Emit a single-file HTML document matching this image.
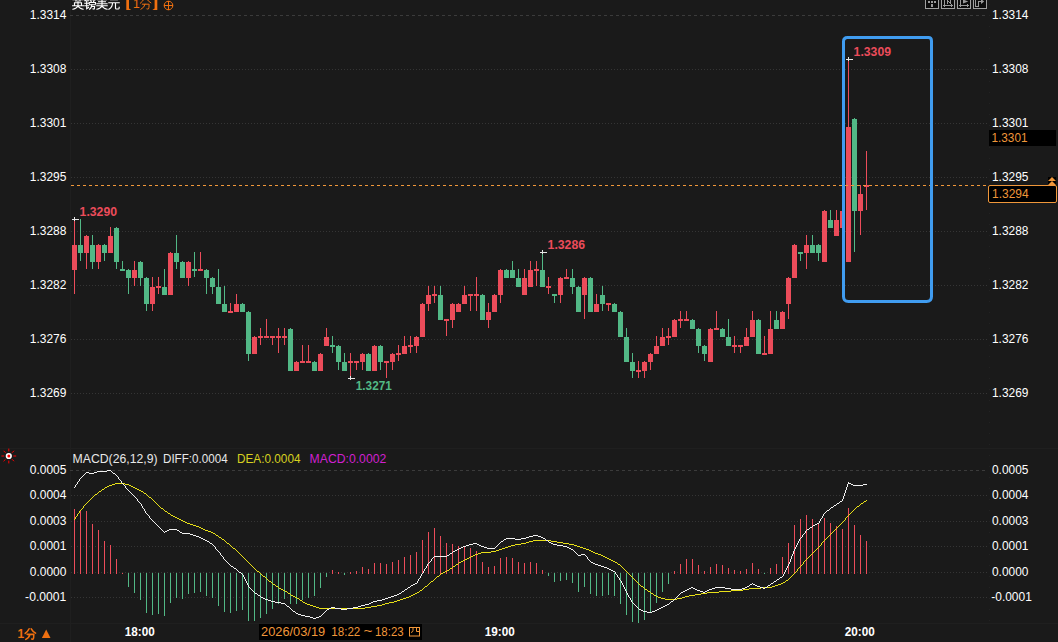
<!DOCTYPE html>
<html><head><meta charset="utf-8"><title>chart</title>
<style>html,body{margin:0;padding:0;background:#1a1a1a;overflow:hidden}svg{display:block}text{font-family:"Liberation Sans",sans-serif}</style>
</head><body>
<svg width="1058" height="642" viewBox="0 0 1058 642">
<rect x="0" y="0" width="1058" height="642" fill="#1a1a1a"/>
<g fill="#1f1f1f" shape-rendering="crispEdges">
<rect x="70" y="0" width="1" height="642"/>
<rect x="0" y="448" width="1058" height="1"/>
<rect x="0" y="623" width="1058" height="1"/>
<line x1="989.5" y1="4" x2="989.5" y2="623" stroke="#222" stroke-width="1" stroke-dasharray="1 10" shape-rendering="crispEdges"/>
</g>
<g stroke="#3b3b3b" stroke-width="1" shape-rendering="crispEdges" fill="none">
<line x1="70" y1="15.5" x2="986" y2="15.5" stroke-dasharray="3 3"/>
<line x1="71" y1="69.5" x2="988" y2="69.5" stroke="#353535" stroke-dasharray="1 2"/>
<line x1="71" y1="123.5" x2="988" y2="123.5" stroke="#353535" stroke-dasharray="1 2"/>
<line x1="71" y1="177.5" x2="988" y2="177.5" stroke="#353535" stroke-dasharray="1 2"/>
<line x1="71" y1="231.5" x2="988" y2="231.5" stroke="#353535" stroke-dasharray="1 2"/>
<line x1="71" y1="285.5" x2="988" y2="285.5" stroke="#353535" stroke-dasharray="1 2"/>
<line x1="71" y1="339.5" x2="988" y2="339.5" stroke="#353535" stroke-dasharray="1 2"/>
<line x1="71" y1="393.5" x2="988" y2="393.5" stroke="#353535" stroke-dasharray="1 2"/>
<line x1="70" y1="470.5" x2="986" y2="470.5" stroke-dasharray="3 3"/>
<line x1="71" y1="495.5" x2="988" y2="495.5" stroke="#353535" stroke-dasharray="1 2"/>
<line x1="71" y1="521.5" x2="988" y2="521.5" stroke="#353535" stroke-dasharray="1 2"/>
<line x1="71" y1="546.5" x2="988" y2="546.5" stroke="#353535" stroke-dasharray="1 2"/>
<line x1="71" y1="572.5" x2="988" y2="572.5" stroke="#353535" stroke-dasharray="1 2"/>
<line x1="71" y1="597.5" x2="988" y2="597.5" stroke="#353535" stroke-dasharray="1 2"/>
</g>
<g shape-rendering="crispEdges">
<rect x="74" y="219" width="1" height="75" fill="#ec4c5a"/>
<rect x="72" y="245" width="5" height="25" fill="#ec4c5a"/>
<rect x="80" y="219" width="1" height="42" fill="#52b886"/>
<rect x="78" y="245" width="5" height="8" fill="#52b886"/>
<rect x="86" y="235" width="1" height="34" fill="#ec4c5a"/>
<rect x="84" y="236" width="5" height="17" fill="#ec4c5a"/>
<rect x="92" y="235" width="1" height="34" fill="#52b886"/>
<rect x="90" y="245" width="5" height="17" fill="#52b886"/>
<rect x="98" y="244" width="1" height="25" fill="#ec4c5a"/>
<rect x="96" y="245" width="5" height="17" fill="#ec4c5a"/>
<rect x="104" y="244" width="1" height="17" fill="#52b886"/>
<rect x="102" y="245" width="5" height="8" fill="#52b886"/>
<rect x="110" y="227" width="1" height="25" fill="#ec4c5a"/>
<rect x="108" y="236" width="5" height="17" fill="#ec4c5a"/>
<rect x="116" y="227" width="1" height="42" fill="#52b886"/>
<rect x="114" y="228" width="5" height="34" fill="#52b886"/>
<rect x="122" y="261" width="1" height="8" fill="#52b886"/>
<rect x="120" y="269" width="5" height="2" fill="#52b886"/>
<rect x="128" y="269" width="1" height="25" fill="#52b886"/>
<rect x="126" y="270" width="5" height="8" fill="#52b886"/>
<rect x="134" y="261" width="1" height="25" fill="#ec4c5a"/>
<rect x="132" y="270" width="5" height="8" fill="#ec4c5a"/>
<rect x="140" y="261" width="1" height="25" fill="#52b886"/>
<rect x="138" y="262" width="5" height="16" fill="#52b886"/>
<rect x="146" y="277" width="1" height="34" fill="#52b886"/>
<rect x="144" y="278" width="5" height="26" fill="#52b886"/>
<rect x="152" y="277" width="1" height="34" fill="#ec4c5a"/>
<rect x="150" y="287" width="5" height="17" fill="#ec4c5a"/>
<rect x="158" y="277" width="1" height="17" fill="#ec4c5a"/>
<rect x="156" y="286" width="5" height="2" fill="#ec4c5a"/>
<rect x="164" y="269" width="1" height="25" fill="#52b886"/>
<rect x="162" y="287" width="5" height="8" fill="#52b886"/>
<rect x="170" y="252" width="1" height="42" fill="#ec4c5a"/>
<rect x="168" y="253" width="5" height="42" fill="#ec4c5a"/>
<rect x="176" y="235" width="1" height="34" fill="#52b886"/>
<rect x="174" y="253" width="5" height="9" fill="#52b886"/>
<rect x="182" y="261" width="1" height="16" fill="#52b886"/>
<rect x="180" y="262" width="5" height="16" fill="#52b886"/>
<rect x="188" y="261" width="1" height="25" fill="#ec4c5a"/>
<rect x="186" y="262" width="5" height="16" fill="#ec4c5a"/>
<rect x="194" y="252" width="1" height="25" fill="#52b886"/>
<rect x="192" y="269" width="5" height="2" fill="#52b886"/>
<rect x="200" y="252" width="1" height="17" fill="#ec4c5a"/>
<rect x="198" y="269" width="5" height="2" fill="#ec4c5a"/>
<rect x="206" y="269" width="1" height="25" fill="#52b886"/>
<rect x="204" y="270" width="5" height="8" fill="#52b886"/>
<rect x="212" y="277" width="1" height="17" fill="#52b886"/>
<rect x="210" y="278" width="5" height="9" fill="#52b886"/>
<rect x="218" y="269" width="1" height="34" fill="#52b886"/>
<rect x="216" y="287" width="5" height="17" fill="#52b886"/>
<rect x="224" y="286" width="1" height="25" fill="#52b886"/>
<rect x="222" y="304" width="5" height="8" fill="#52b886"/>
<rect x="230" y="303" width="1" height="8" fill="#ec4c5a"/>
<rect x="228" y="311" width="5" height="2" fill="#ec4c5a"/>
<rect x="236" y="294" width="1" height="17" fill="#ec4c5a"/>
<rect x="234" y="304" width="5" height="8" fill="#ec4c5a"/>
<rect x="242" y="303" width="1" height="8" fill="#52b886"/>
<rect x="240" y="304" width="5" height="8" fill="#52b886"/>
<rect x="248" y="311" width="1" height="50" fill="#52b886"/>
<rect x="246" y="312" width="5" height="42" fill="#52b886"/>
<rect x="254" y="336" width="1" height="17" fill="#ec4c5a"/>
<rect x="252" y="337" width="5" height="17" fill="#ec4c5a"/>
<rect x="260" y="328" width="1" height="17" fill="#ec4c5a"/>
<rect x="258" y="336" width="5" height="2" fill="#ec4c5a"/>
<rect x="266" y="319" width="1" height="17" fill="#ec4c5a"/>
<rect x="264" y="336" width="5" height="2" fill="#ec4c5a"/>
<rect x="272" y="336" width="1" height="9" fill="#ec4c5a"/>
<rect x="270" y="336" width="5" height="2" fill="#ec4c5a"/>
<rect x="278" y="328" width="1" height="25" fill="#ec4c5a"/>
<rect x="276" y="336" width="5" height="2" fill="#ec4c5a"/>
<rect x="284" y="328" width="1" height="17" fill="#ec4c5a"/>
<rect x="282" y="336" width="5" height="2" fill="#ec4c5a"/>
<rect x="290" y="328" width="1" height="42" fill="#52b886"/>
<rect x="288" y="329" width="5" height="42" fill="#52b886"/>
<rect x="296" y="361" width="1" height="9" fill="#ec4c5a"/>
<rect x="294" y="362" width="5" height="9" fill="#ec4c5a"/>
<rect x="302" y="345" width="1" height="16" fill="#ec4c5a"/>
<rect x="300" y="361" width="5" height="2" fill="#ec4c5a"/>
<rect x="308" y="345" width="1" height="16" fill="#ec4c5a"/>
<rect x="306" y="361" width="5" height="2" fill="#ec4c5a"/>
<rect x="314" y="361" width="1" height="9" fill="#52b886"/>
<rect x="312" y="362" width="5" height="9" fill="#52b886"/>
<rect x="320" y="353" width="1" height="17" fill="#ec4c5a"/>
<rect x="318" y="354" width="5" height="17" fill="#ec4c5a"/>
<rect x="326" y="328" width="1" height="17" fill="#ec4c5a"/>
<rect x="324" y="337" width="5" height="9" fill="#ec4c5a"/>
<rect x="332" y="336" width="1" height="17" fill="#52b886"/>
<rect x="330" y="345" width="5" height="2" fill="#52b886"/>
<rect x="338" y="345" width="1" height="25" fill="#52b886"/>
<rect x="336" y="346" width="5" height="16" fill="#52b886"/>
<rect x="344" y="353" width="1" height="17" fill="#52b886"/>
<rect x="342" y="362" width="5" height="9" fill="#52b886"/>
<rect x="350" y="353" width="1" height="25" fill="#ec4c5a"/>
<rect x="348" y="361" width="5" height="2" fill="#ec4c5a"/>
<rect x="356" y="361" width="1" height="9" fill="#ec4c5a"/>
<rect x="354" y="361" width="5" height="2" fill="#ec4c5a"/>
<rect x="362" y="353" width="1" height="17" fill="#ec4c5a"/>
<rect x="360" y="354" width="5" height="8" fill="#ec4c5a"/>
<rect x="368" y="353" width="1" height="17" fill="#52b886"/>
<rect x="366" y="354" width="5" height="17" fill="#52b886"/>
<rect x="374" y="345" width="1" height="25" fill="#ec4c5a"/>
<rect x="372" y="346" width="5" height="25" fill="#ec4c5a"/>
<rect x="380" y="345" width="1" height="25" fill="#52b886"/>
<rect x="378" y="346" width="5" height="16" fill="#52b886"/>
<rect x="386" y="361" width="1" height="17" fill="#ec4c5a"/>
<rect x="384" y="361" width="5" height="2" fill="#ec4c5a"/>
<rect x="392" y="353" width="1" height="17" fill="#ec4c5a"/>
<rect x="390" y="354" width="5" height="8" fill="#ec4c5a"/>
<rect x="398" y="345" width="1" height="16" fill="#ec4c5a"/>
<rect x="396" y="353" width="5" height="2" fill="#ec4c5a"/>
<rect x="404" y="336" width="1" height="17" fill="#ec4c5a"/>
<rect x="402" y="346" width="5" height="8" fill="#ec4c5a"/>
<rect x="410" y="336" width="1" height="17" fill="#ec4c5a"/>
<rect x="408" y="345" width="5" height="2" fill="#ec4c5a"/>
<rect x="416" y="336" width="1" height="17" fill="#ec4c5a"/>
<rect x="414" y="337" width="5" height="9" fill="#ec4c5a"/>
<rect x="422" y="303" width="1" height="33" fill="#ec4c5a"/>
<rect x="420" y="304" width="5" height="33" fill="#ec4c5a"/>
<rect x="428" y="286" width="1" height="25" fill="#ec4c5a"/>
<rect x="426" y="295" width="5" height="9" fill="#ec4c5a"/>
<rect x="434" y="286" width="1" height="17" fill="#ec4c5a"/>
<rect x="432" y="294" width="5" height="2" fill="#ec4c5a"/>
<rect x="440" y="286" width="1" height="33" fill="#52b886"/>
<rect x="438" y="295" width="5" height="25" fill="#52b886"/>
<rect x="446" y="319" width="1" height="17" fill="#ec4c5a"/>
<rect x="444" y="319" width="5" height="2" fill="#ec4c5a"/>
<rect x="452" y="303" width="1" height="25" fill="#ec4c5a"/>
<rect x="450" y="304" width="5" height="16" fill="#ec4c5a"/>
<rect x="458" y="303" width="1" height="8" fill="#ec4c5a"/>
<rect x="456" y="304" width="5" height="8" fill="#ec4c5a"/>
<rect x="464" y="286" width="1" height="17" fill="#ec4c5a"/>
<rect x="462" y="295" width="5" height="9" fill="#ec4c5a"/>
<rect x="470" y="294" width="1" height="17" fill="#ec4c5a"/>
<rect x="468" y="294" width="5" height="2" fill="#ec4c5a"/>
<rect x="476" y="277" width="1" height="34" fill="#ec4c5a"/>
<rect x="474" y="294" width="5" height="2" fill="#ec4c5a"/>
<rect x="482" y="294" width="1" height="25" fill="#52b886"/>
<rect x="480" y="295" width="5" height="25" fill="#52b886"/>
<rect x="488" y="303" width="1" height="25" fill="#ec4c5a"/>
<rect x="486" y="312" width="5" height="8" fill="#ec4c5a"/>
<rect x="494" y="294" width="1" height="17" fill="#ec4c5a"/>
<rect x="492" y="295" width="5" height="17" fill="#ec4c5a"/>
<rect x="500" y="269" width="1" height="34" fill="#ec4c5a"/>
<rect x="498" y="270" width="5" height="25" fill="#ec4c5a"/>
<rect x="506" y="269" width="1" height="8" fill="#52b886"/>
<rect x="504" y="270" width="5" height="8" fill="#52b886"/>
<rect x="512" y="261" width="1" height="16" fill="#52b886"/>
<rect x="510" y="270" width="5" height="8" fill="#52b886"/>
<rect x="518" y="269" width="1" height="17" fill="#52b886"/>
<rect x="516" y="278" width="5" height="9" fill="#52b886"/>
<rect x="524" y="269" width="1" height="25" fill="#ec4c5a"/>
<rect x="522" y="278" width="5" height="17" fill="#ec4c5a"/>
<rect x="530" y="261" width="1" height="25" fill="#ec4c5a"/>
<rect x="528" y="270" width="5" height="17" fill="#ec4c5a"/>
<rect x="536" y="261" width="1" height="25" fill="#ec4c5a"/>
<rect x="534" y="269" width="5" height="2" fill="#ec4c5a"/>
<rect x="542" y="252" width="1" height="34" fill="#52b886"/>
<rect x="540" y="270" width="5" height="17" fill="#52b886"/>
<rect x="548" y="277" width="1" height="17" fill="#ec4c5a"/>
<rect x="546" y="286" width="5" height="2" fill="#ec4c5a"/>
<rect x="554" y="294" width="1" height="9" fill="#52b886"/>
<rect x="552" y="294" width="5" height="2" fill="#52b886"/>
<rect x="560" y="277" width="1" height="26" fill="#ec4c5a"/>
<rect x="558" y="278" width="5" height="17" fill="#ec4c5a"/>
<rect x="566" y="269" width="1" height="8" fill="#ec4c5a"/>
<rect x="564" y="277" width="5" height="2" fill="#ec4c5a"/>
<rect x="572" y="269" width="1" height="25" fill="#52b886"/>
<rect x="570" y="278" width="5" height="9" fill="#52b886"/>
<rect x="578" y="286" width="1" height="25" fill="#52b886"/>
<rect x="576" y="287" width="5" height="25" fill="#52b886"/>
<rect x="584" y="277" width="1" height="42" fill="#ec4c5a"/>
<rect x="582" y="278" width="5" height="17" fill="#ec4c5a"/>
<rect x="590" y="277" width="1" height="34" fill="#52b886"/>
<rect x="588" y="278" width="5" height="34" fill="#52b886"/>
<rect x="596" y="294" width="1" height="17" fill="#ec4c5a"/>
<rect x="594" y="304" width="5" height="8" fill="#ec4c5a"/>
<rect x="602" y="286" width="1" height="25" fill="#52b886"/>
<rect x="600" y="295" width="5" height="9" fill="#52b886"/>
<rect x="608" y="303" width="1" height="8" fill="#ec4c5a"/>
<rect x="606" y="303" width="5" height="2" fill="#ec4c5a"/>
<rect x="614" y="303" width="1" height="8" fill="#52b886"/>
<rect x="612" y="304" width="5" height="8" fill="#52b886"/>
<rect x="620" y="311" width="1" height="25" fill="#52b886"/>
<rect x="618" y="312" width="5" height="25" fill="#52b886"/>
<rect x="626" y="328" width="1" height="33" fill="#52b886"/>
<rect x="624" y="337" width="5" height="25" fill="#52b886"/>
<rect x="632" y="353" width="1" height="25" fill="#52b886"/>
<rect x="630" y="362" width="5" height="9" fill="#52b886"/>
<rect x="638" y="361" width="1" height="17" fill="#ec4c5a"/>
<rect x="636" y="370" width="5" height="2" fill="#ec4c5a"/>
<rect x="644" y="361" width="1" height="17" fill="#ec4c5a"/>
<rect x="642" y="362" width="5" height="9" fill="#ec4c5a"/>
<rect x="650" y="353" width="1" height="17" fill="#ec4c5a"/>
<rect x="648" y="354" width="5" height="8" fill="#ec4c5a"/>
<rect x="656" y="336" width="1" height="17" fill="#ec4c5a"/>
<rect x="654" y="346" width="5" height="8" fill="#ec4c5a"/>
<rect x="662" y="328" width="1" height="17" fill="#ec4c5a"/>
<rect x="660" y="337" width="5" height="9" fill="#ec4c5a"/>
<rect x="668" y="328" width="1" height="17" fill="#ec4c5a"/>
<rect x="666" y="336" width="5" height="2" fill="#ec4c5a"/>
<rect x="674" y="319" width="1" height="17" fill="#ec4c5a"/>
<rect x="672" y="320" width="5" height="17" fill="#ec4c5a"/>
<rect x="680" y="311" width="1" height="17" fill="#ec4c5a"/>
<rect x="678" y="319" width="5" height="2" fill="#ec4c5a"/>
<rect x="686" y="311" width="1" height="8" fill="#ec4c5a"/>
<rect x="684" y="319" width="5" height="2" fill="#ec4c5a"/>
<rect x="692" y="319" width="1" height="9" fill="#52b886"/>
<rect x="690" y="320" width="5" height="9" fill="#52b886"/>
<rect x="698" y="328" width="1" height="25" fill="#52b886"/>
<rect x="696" y="329" width="5" height="17" fill="#52b886"/>
<rect x="704" y="345" width="1" height="16" fill="#52b886"/>
<rect x="702" y="346" width="5" height="8" fill="#52b886"/>
<rect x="710" y="328" width="1" height="33" fill="#ec4c5a"/>
<rect x="708" y="329" width="5" height="33" fill="#ec4c5a"/>
<rect x="716" y="311" width="1" height="17" fill="#ec4c5a"/>
<rect x="714" y="328" width="5" height="2" fill="#ec4c5a"/>
<rect x="722" y="328" width="1" height="8" fill="#52b886"/>
<rect x="720" y="329" width="5" height="8" fill="#52b886"/>
<rect x="728" y="319" width="1" height="26" fill="#52b886"/>
<rect x="726" y="337" width="5" height="9" fill="#52b886"/>
<rect x="734" y="336" width="1" height="17" fill="#ec4c5a"/>
<rect x="732" y="345" width="5" height="2" fill="#ec4c5a"/>
<rect x="740" y="345" width="1" height="8" fill="#ec4c5a"/>
<rect x="738" y="345" width="5" height="2" fill="#ec4c5a"/>
<rect x="746" y="328" width="1" height="17" fill="#ec4c5a"/>
<rect x="744" y="337" width="5" height="9" fill="#ec4c5a"/>
<rect x="752" y="311" width="1" height="25" fill="#ec4c5a"/>
<rect x="750" y="320" width="5" height="17" fill="#ec4c5a"/>
<rect x="758" y="319" width="1" height="34" fill="#52b886"/>
<rect x="756" y="320" width="5" height="34" fill="#52b886"/>
<rect x="764" y="336" width="1" height="17" fill="#ec4c5a"/>
<rect x="762" y="353" width="5" height="2" fill="#ec4c5a"/>
<rect x="770" y="311" width="1" height="42" fill="#ec4c5a"/>
<rect x="768" y="329" width="5" height="25" fill="#ec4c5a"/>
<rect x="776" y="311" width="1" height="17" fill="#52b886"/>
<rect x="774" y="320" width="5" height="9" fill="#52b886"/>
<rect x="782" y="311" width="1" height="17" fill="#ec4c5a"/>
<rect x="780" y="312" width="5" height="17" fill="#ec4c5a"/>
<rect x="788" y="277" width="1" height="42" fill="#ec4c5a"/>
<rect x="786" y="278" width="5" height="26" fill="#ec4c5a"/>
<rect x="794" y="244" width="1" height="33" fill="#ec4c5a"/>
<rect x="792" y="245" width="5" height="33" fill="#ec4c5a"/>
<rect x="800" y="252" width="1" height="9" fill="#52b886"/>
<rect x="798" y="252" width="5" height="2" fill="#52b886"/>
<rect x="806" y="235" width="1" height="34" fill="#ec4c5a"/>
<rect x="804" y="245" width="5" height="8" fill="#ec4c5a"/>
<rect x="812" y="235" width="1" height="17" fill="#52b886"/>
<rect x="810" y="245" width="5" height="8" fill="#52b886"/>
<rect x="818" y="244" width="1" height="17" fill="#52b886"/>
<rect x="816" y="245" width="5" height="8" fill="#52b886"/>
<rect x="824" y="210" width="1" height="51" fill="#ec4c5a"/>
<rect x="822" y="211" width="5" height="51" fill="#ec4c5a"/>
<rect x="830" y="210" width="1" height="17" fill="#52b886"/>
<rect x="828" y="220" width="5" height="8" fill="#52b886"/>
<rect x="836" y="210" width="1" height="25" fill="#ec4c5a"/>
<rect x="834" y="220" width="5" height="16" fill="#ec4c5a"/>
<rect x="842" y="210" width="1" height="17" fill="#ec4c5a"/>
<rect x="840" y="211" width="5" height="17" fill="#ec4c5a"/>
<rect x="848" y="59" width="1" height="202" fill="#ec4c5a"/>
<rect x="846" y="127" width="5" height="135" fill="#ec4c5a"/>
<rect x="854" y="118" width="1" height="134" fill="#52b886"/>
<rect x="852" y="119" width="5" height="92" fill="#52b886"/>
<rect x="860" y="185" width="1" height="50" fill="#ec4c5a"/>
<rect x="858" y="194" width="5" height="17" fill="#ec4c5a"/>
<rect x="866" y="151" width="1" height="59" fill="#ec4c5a"/>
<rect x="864" y="185" width="5" height="2" fill="#ec4c5a"/>
</g>
<line x1="71" y1="185.5" x2="988" y2="185.5" stroke="#f0973a" stroke-width="1" stroke-dasharray="3 3" shape-rendering="crispEdges"/>
<path d="M847.5 37.5 H928.5 Q931.5 37.5 931.5 41 V296.5 Q931.5 301.5 926.5 301.5 H848.5 Q843.5 301.5 843.5 296.5 V41.5 Q843.5 37.5 847.5 37.5 Z" fill="none" stroke="#409cf0" stroke-width="3"/>
<g fill="#e6e6e6" shape-rendering="crispEdges"><rect x="72" y="219" width="7" height="1"/><rect x="74" y="217" width="1" height="4"/></g>
<text x="79.6" y="216" font-family="Liberation Sans, sans-serif" font-size="12" font-weight="bold" fill="#ec4c5a" textLength="37.4" lengthAdjust="spacingAndGlyphs">1.3290</text>
<g fill="#e6e6e6" shape-rendering="crispEdges"><rect x="540" y="252" width="7" height="1"/><rect x="542" y="250" width="1" height="4"/></g>
<text x="547.6" y="249" font-family="Liberation Sans, sans-serif" font-size="12" font-weight="bold" fill="#ec4c5a" textLength="37.4" lengthAdjust="spacingAndGlyphs">1.3286</text>
<g fill="#e6e6e6" shape-rendering="crispEdges"><rect x="846" y="59" width="7" height="1"/><rect x="848" y="57" width="1" height="4"/></g>
<text x="853.6" y="56" font-family="Liberation Sans, sans-serif" font-size="12" font-weight="bold" fill="#ec4c5a" textLength="37.4" lengthAdjust="spacingAndGlyphs">1.3309</text>
<g fill="#e6e6e6" shape-rendering="crispEdges"><rect x="348" y="378" width="7" height="1"/><rect x="350" y="376" width="1" height="4"/></g>
<text x="355.8" y="390" font-family="Liberation Sans, sans-serif" font-size="12" font-weight="bold" fill="#52b886" textLength="36" lengthAdjust="spacingAndGlyphs">1.3271</text>
<text x="29.8" y="19" font-family="Liberation Sans, sans-serif" font-size="12" fill="#ffffff" text-anchor="start" textLength="36.6" lengthAdjust="spacingAndGlyphs">1.3314</text>
<text x="992" y="19" font-family="Liberation Sans, sans-serif" font-size="12" fill="#ffffff" text-anchor="start" textLength="36.4" lengthAdjust="spacingAndGlyphs">1.3314</text>
<text x="29.8" y="73" font-family="Liberation Sans, sans-serif" font-size="12" fill="#ffffff" text-anchor="start" textLength="36.6" lengthAdjust="spacingAndGlyphs">1.3308</text>
<text x="992" y="73" font-family="Liberation Sans, sans-serif" font-size="12" fill="#ffffff" text-anchor="start" textLength="36.4" lengthAdjust="spacingAndGlyphs">1.3308</text>
<text x="29.8" y="127" font-family="Liberation Sans, sans-serif" font-size="12" fill="#ffffff" text-anchor="start" textLength="36.6" lengthAdjust="spacingAndGlyphs">1.3301</text>
<text x="992" y="127" font-family="Liberation Sans, sans-serif" font-size="12" fill="#ffffff" text-anchor="start" textLength="36.4" lengthAdjust="spacingAndGlyphs">1.3301</text>
<text x="29.8" y="181" font-family="Liberation Sans, sans-serif" font-size="12" fill="#ffffff" text-anchor="start" textLength="36.6" lengthAdjust="spacingAndGlyphs">1.3295</text>
<text x="992" y="181" font-family="Liberation Sans, sans-serif" font-size="12" fill="#ffffff" text-anchor="start" textLength="36.4" lengthAdjust="spacingAndGlyphs">1.3295</text>
<text x="29.8" y="235" font-family="Liberation Sans, sans-serif" font-size="12" fill="#ffffff" text-anchor="start" textLength="36.6" lengthAdjust="spacingAndGlyphs">1.3288</text>
<text x="992" y="235" font-family="Liberation Sans, sans-serif" font-size="12" fill="#ffffff" text-anchor="start" textLength="36.4" lengthAdjust="spacingAndGlyphs">1.3288</text>
<text x="29.8" y="289" font-family="Liberation Sans, sans-serif" font-size="12" fill="#ffffff" text-anchor="start" textLength="36.6" lengthAdjust="spacingAndGlyphs">1.3282</text>
<text x="992" y="289" font-family="Liberation Sans, sans-serif" font-size="12" fill="#ffffff" text-anchor="start" textLength="36.4" lengthAdjust="spacingAndGlyphs">1.3282</text>
<text x="29.8" y="343" font-family="Liberation Sans, sans-serif" font-size="12" fill="#ffffff" text-anchor="start" textLength="36.6" lengthAdjust="spacingAndGlyphs">1.3276</text>
<text x="992" y="343" font-family="Liberation Sans, sans-serif" font-size="12" fill="#ffffff" text-anchor="start" textLength="36.4" lengthAdjust="spacingAndGlyphs">1.3276</text>
<text x="29.8" y="397" font-family="Liberation Sans, sans-serif" font-size="12" fill="#ffffff" text-anchor="start" textLength="36.6" lengthAdjust="spacingAndGlyphs">1.3269</text>
<text x="992" y="397" font-family="Liberation Sans, sans-serif" font-size="12" fill="#ffffff" text-anchor="start" textLength="36.4" lengthAdjust="spacingAndGlyphs">1.3269</text>
<text x="29.8" y="474" font-family="Liberation Sans, sans-serif" font-size="12" fill="#ffffff" text-anchor="start" textLength="36.6" lengthAdjust="spacingAndGlyphs">0.0005</text>
<text x="992" y="474" font-family="Liberation Sans, sans-serif" font-size="12" fill="#ffffff" text-anchor="start" textLength="36.4" lengthAdjust="spacingAndGlyphs">0.0005</text>
<text x="29.8" y="499" font-family="Liberation Sans, sans-serif" font-size="12" fill="#ffffff" text-anchor="start" textLength="36.6" lengthAdjust="spacingAndGlyphs">0.0004</text>
<text x="992" y="499" font-family="Liberation Sans, sans-serif" font-size="12" fill="#ffffff" text-anchor="start" textLength="36.4" lengthAdjust="spacingAndGlyphs">0.0004</text>
<text x="29.8" y="525" font-family="Liberation Sans, sans-serif" font-size="12" fill="#ffffff" text-anchor="start" textLength="36.6" lengthAdjust="spacingAndGlyphs">0.0003</text>
<text x="992" y="525" font-family="Liberation Sans, sans-serif" font-size="12" fill="#ffffff" text-anchor="start" textLength="36.4" lengthAdjust="spacingAndGlyphs">0.0003</text>
<text x="29.8" y="550" font-family="Liberation Sans, sans-serif" font-size="12" fill="#ffffff" text-anchor="start" textLength="36.6" lengthAdjust="spacingAndGlyphs">0.0001</text>
<text x="992" y="550" font-family="Liberation Sans, sans-serif" font-size="12" fill="#ffffff" text-anchor="start" textLength="36.4" lengthAdjust="spacingAndGlyphs">0.0001</text>
<text x="29.8" y="576" font-family="Liberation Sans, sans-serif" font-size="12" fill="#ffffff" text-anchor="start" textLength="36.6" lengthAdjust="spacingAndGlyphs">0.0000</text>
<text x="992" y="576" font-family="Liberation Sans, sans-serif" font-size="12" fill="#ffffff" text-anchor="start" textLength="36.4" lengthAdjust="spacingAndGlyphs">0.0000</text>
<text x="25.1" y="601" font-family="Liberation Sans, sans-serif" font-size="12" fill="#ffffff" text-anchor="start" textLength="41.2" lengthAdjust="spacingAndGlyphs">-0.0001</text>
<text x="991.3" y="601" font-family="Liberation Sans, sans-serif" font-size="12" fill="#ffffff" text-anchor="start" textLength="40.5" lengthAdjust="spacingAndGlyphs">-0.0001</text>
<rect x="989" y="130" width="67" height="16" fill="#000"/>
<text x="991.5" y="142.3" font-family="Liberation Sans, sans-serif" font-size="12" fill="#f0973a" text-anchor="start" textLength="36" lengthAdjust="spacingAndGlyphs">1.3301</text>
<rect x="988.5" y="185.5" width="68" height="17" rx="1.5" fill="#000" stroke="#f0973a" stroke-width="1"/>
<text x="992" y="198.2" font-family="Liberation Sans, sans-serif" font-size="12" fill="#f0973a" text-anchor="start" textLength="36.6" lengthAdjust="spacingAndGlyphs">1.3294</text>
<rect x="1048" y="177" width="8" height="8" fill="#000"/>
<path d="M1052 177 L1056 181 L1048 181 Z M1052 181 L1056 185 L1048 185 Z" fill="#f0973a"/>
<g shape-rendering="crispEdges">
<rect x="74" y="509" width="1" height="65" fill="#ec4c5a"/>
<rect x="80" y="511" width="1" height="63" fill="#ec4c5a"/>
<rect x="86" y="511" width="1" height="63" fill="#ec4c5a"/>
<rect x="92" y="524" width="1" height="50" fill="#ec4c5a"/>
<rect x="98" y="530" width="1" height="44" fill="#ec4c5a"/>
<rect x="104" y="541" width="1" height="33" fill="#ec4c5a"/>
<rect x="110" y="545" width="1" height="29" fill="#ec4c5a"/>
<rect x="116" y="559" width="1" height="15" fill="#ec4c5a"/>
<rect x="122" y="573" width="1" height="1" fill="#ec4c5a"/>
<rect x="128" y="573" width="1" height="14" fill="#52b886"/>
<rect x="134" y="573" width="1" height="20" fill="#52b886"/>
<rect x="140" y="573" width="1" height="27" fill="#52b886"/>
<rect x="146" y="573" width="1" height="40" fill="#52b886"/>
<rect x="152" y="573" width="1" height="42" fill="#52b886"/>
<rect x="158" y="573" width="1" height="41" fill="#52b886"/>
<rect x="164" y="573" width="1" height="43" fill="#52b886"/>
<rect x="170" y="573" width="1" height="30" fill="#52b886"/>
<rect x="176" y="573" width="1" height="25" fill="#52b886"/>
<rect x="182" y="573" width="1" height="26" fill="#52b886"/>
<rect x="188" y="573" width="1" height="21" fill="#52b886"/>
<rect x="194" y="573" width="1" height="20" fill="#52b886"/>
<rect x="200" y="573" width="1" height="19" fill="#52b886"/>
<rect x="206" y="573" width="1" height="23" fill="#52b886"/>
<rect x="212" y="573" width="1" height="25" fill="#52b886"/>
<rect x="218" y="573" width="1" height="33" fill="#52b886"/>
<rect x="224" y="573" width="1" height="39" fill="#52b886"/>
<rect x="230" y="573" width="1" height="40" fill="#52b886"/>
<rect x="236" y="573" width="1" height="38" fill="#52b886"/>
<rect x="242" y="573" width="1" height="37" fill="#52b886"/>
<rect x="248" y="573" width="1" height="48" fill="#52b886"/>
<rect x="254" y="573" width="1" height="48" fill="#52b886"/>
<rect x="260" y="573" width="1" height="45" fill="#52b886"/>
<rect x="266" y="573" width="1" height="41" fill="#52b886"/>
<rect x="272" y="573" width="1" height="36" fill="#52b886"/>
<rect x="278" y="573" width="1" height="31" fill="#52b886"/>
<rect x="284" y="573" width="1" height="26" fill="#52b886"/>
<rect x="290" y="573" width="1" height="31" fill="#52b886"/>
<rect x="296" y="573" width="1" height="31" fill="#52b886"/>
<rect x="302" y="573" width="1" height="27" fill="#52b886"/>
<rect x="308" y="573" width="1" height="25" fill="#52b886"/>
<rect x="314" y="573" width="1" height="23" fill="#52b886"/>
<rect x="320" y="573" width="1" height="15" fill="#52b886"/>
<rect x="326" y="573" width="1" height="4" fill="#52b886"/>
<rect x="332" y="570" width="1" height="4" fill="#ec4c5a"/>
<rect x="338" y="572" width="1" height="2" fill="#ec4c5a"/>
<rect x="344" y="573" width="1" height="2" fill="#52b886"/>
<rect x="350" y="572" width="1" height="2" fill="#ec4c5a"/>
<rect x="356" y="571" width="1" height="3" fill="#ec4c5a"/>
<rect x="362" y="567" width="1" height="7" fill="#ec4c5a"/>
<rect x="368" y="569" width="1" height="5" fill="#ec4c5a"/>
<rect x="374" y="563" width="1" height="11" fill="#ec4c5a"/>
<rect x="380" y="563" width="1" height="11" fill="#ec4c5a"/>
<rect x="386" y="564" width="1" height="10" fill="#ec4c5a"/>
<rect x="392" y="562" width="1" height="12" fill="#ec4c5a"/>
<rect x="398" y="560" width="1" height="14" fill="#ec4c5a"/>
<rect x="404" y="557" width="1" height="17" fill="#ec4c5a"/>
<rect x="410" y="555" width="1" height="19" fill="#ec4c5a"/>
<rect x="416" y="552" width="1" height="22" fill="#ec4c5a"/>
<rect x="422" y="540" width="1" height="34" fill="#ec4c5a"/>
<rect x="428" y="532" width="1" height="42" fill="#ec4c5a"/>
<rect x="434" y="528" width="1" height="46" fill="#ec4c5a"/>
<rect x="440" y="536" width="1" height="38" fill="#ec4c5a"/>
<rect x="446" y="543" width="1" height="31" fill="#ec4c5a"/>
<rect x="452" y="544" width="1" height="30" fill="#ec4c5a"/>
<rect x="458" y="546" width="1" height="28" fill="#ec4c5a"/>
<rect x="464" y="546" width="1" height="28" fill="#ec4c5a"/>
<rect x="470" y="548" width="1" height="26" fill="#ec4c5a"/>
<rect x="476" y="551" width="1" height="23" fill="#ec4c5a"/>
<rect x="482" y="562" width="1" height="12" fill="#ec4c5a"/>
<rect x="488" y="567" width="1" height="7" fill="#ec4c5a"/>
<rect x="494" y="566" width="1" height="8" fill="#ec4c5a"/>
<rect x="500" y="558" width="1" height="16" fill="#ec4c5a"/>
<rect x="506" y="557" width="1" height="17" fill="#ec4c5a"/>
<rect x="512" y="558" width="1" height="16" fill="#ec4c5a"/>
<rect x="518" y="562" width="1" height="12" fill="#ec4c5a"/>
<rect x="524" y="563" width="1" height="11" fill="#ec4c5a"/>
<rect x="530" y="562" width="1" height="12" fill="#ec4c5a"/>
<rect x="536" y="563" width="1" height="11" fill="#ec4c5a"/>
<rect x="542" y="570" width="1" height="4" fill="#ec4c5a"/>
<rect x="548" y="573" width="1" height="3" fill="#52b886"/>
<rect x="554" y="573" width="1" height="9" fill="#52b886"/>
<rect x="560" y="573" width="1" height="8" fill="#52b886"/>
<rect x="566" y="573" width="1" height="7" fill="#52b886"/>
<rect x="572" y="573" width="1" height="10" fill="#52b886"/>
<rect x="578" y="573" width="1" height="19" fill="#52b886"/>
<rect x="584" y="573" width="1" height="14" fill="#52b886"/>
<rect x="590" y="573" width="1" height="21" fill="#52b886"/>
<rect x="596" y="573" width="1" height="23" fill="#52b886"/>
<rect x="602" y="573" width="1" height="23" fill="#52b886"/>
<rect x="608" y="573" width="1" height="22" fill="#52b886"/>
<rect x="614" y="573" width="1" height="23" fill="#52b886"/>
<rect x="620" y="573" width="1" height="31" fill="#52b886"/>
<rect x="626" y="573" width="1" height="42" fill="#52b886"/>
<rect x="632" y="573" width="1" height="49" fill="#52b886"/>
<rect x="638" y="573" width="1" height="50" fill="#52b886"/>
<rect x="644" y="573" width="1" height="47" fill="#52b886"/>
<rect x="650" y="573" width="1" height="40" fill="#52b886"/>
<rect x="656" y="573" width="1" height="30" fill="#52b886"/>
<rect x="662" y="573" width="1" height="19" fill="#52b886"/>
<rect x="668" y="573" width="1" height="11" fill="#52b886"/>
<rect x="674" y="571" width="1" height="3" fill="#ec4c5a"/>
<rect x="680" y="564" width="1" height="10" fill="#ec4c5a"/>
<rect x="686" y="559" width="1" height="15" fill="#ec4c5a"/>
<rect x="692" y="559" width="1" height="15" fill="#ec4c5a"/>
<rect x="698" y="565" width="1" height="9" fill="#ec4c5a"/>
<rect x="704" y="571" width="1" height="3" fill="#ec4c5a"/>
<rect x="710" y="567" width="1" height="7" fill="#ec4c5a"/>
<rect x="716" y="564" width="1" height="10" fill="#ec4c5a"/>
<rect x="722" y="565" width="1" height="9" fill="#ec4c5a"/>
<rect x="728" y="568" width="1" height="6" fill="#ec4c5a"/>
<rect x="734" y="570" width="1" height="4" fill="#ec4c5a"/>
<rect x="740" y="571" width="1" height="3" fill="#ec4c5a"/>
<rect x="746" y="569" width="1" height="5" fill="#ec4c5a"/>
<rect x="752" y="563" width="1" height="11" fill="#ec4c5a"/>
<rect x="758" y="569" width="1" height="5" fill="#ec4c5a"/>
<rect x="764" y="573" width="1" height="1" fill="#52b886"/>
<rect x="770" y="568" width="1" height="6" fill="#ec4c5a"/>
<rect x="776" y="564" width="1" height="10" fill="#ec4c5a"/>
<rect x="782" y="557" width="1" height="17" fill="#ec4c5a"/>
<rect x="788" y="543" width="1" height="31" fill="#ec4c5a"/>
<rect x="794" y="525" width="1" height="49" fill="#ec4c5a"/>
<rect x="800" y="519" width="1" height="55" fill="#ec4c5a"/>
<rect x="806" y="515" width="1" height="59" fill="#ec4c5a"/>
<rect x="812" y="519" width="1" height="55" fill="#ec4c5a"/>
<rect x="818" y="524" width="1" height="50" fill="#ec4c5a"/>
<rect x="824" y="518" width="1" height="56" fill="#ec4c5a"/>
<rect x="830" y="523" width="1" height="51" fill="#ec4c5a"/>
<rect x="836" y="526" width="1" height="48" fill="#ec4c5a"/>
<rect x="842" y="529" width="1" height="45" fill="#ec4c5a"/>
<rect x="848" y="508" width="1" height="66" fill="#ec4c5a"/>
<rect x="854" y="525" width="1" height="49" fill="#ec4c5a"/>
<rect x="860" y="535" width="1" height="39" fill="#ec4c5a"/>
<rect x="866" y="541" width="1" height="33" fill="#ec4c5a"/>
</g>
<path d="M74 519v1h1v-1zM75 517v2h1v-2zM76 516v1h1v-1zM77 514v2h1v-2zM78 513v1h1v-1zM79 511v2h1v-2zM80 510v1h1v-1zM81 509v1h1v-1zM82 508v1h1v-1zM83 506v2h1v-2zM84 505v1h1v-1zM85 504v1h1v-1zM86 503v1h1v-1zM87 502v1h1v-1zM88 501v1h1v-1zM89 500v1h1v-1zM90 499v1h1v-1zM91 498v1h1v-1zM92 497v1h1v-1zM93 496v1h1v-1zM94 495v1h1v-1zM95 494v1h1v-1zM96 494v1h1v-1zM97 493v1h1v-1zM98 492v1h1v-1zM99 491v1h1v-1zM100 491v1h1v-1zM101 490v1h1v-1zM102 489v1h1v-1zM103 489v1h1v-1zM104 488v1h1v-1zM105 487v1h1v-1zM106 487v1h1v-1zM107 486v1h1v-1zM108 486v1h1v-1zM109 485v1h1v-1zM110 485v1h1v-1zM111 485v1h1v-1zM112 484v1h1v-1zM113 484v1h1v-1zM114 484v1h1v-1zM115 483v1h1v-1zM116 483v1h1v-1zM117 483v1h1v-1zM118 483v1h1v-1zM119 483v1h1v-1zM120 483v1h1v-1zM121 483v1h1v-1zM122 483v1h1v-1zM123 483v1h1v-1zM124 483v1h1v-1zM125 484v1h1v-1zM126 484v1h1v-1zM127 484v1h1v-1zM128 484v1h1v-1zM129 485v1h1v-1zM130 485v1h1v-1zM131 486v1h1v-1zM132 486v1h1v-1zM133 487v1h1v-1zM134 487v1h1v-1zM135 488v1h1v-1zM136 488v1h1v-1zM137 489v1h1v-1zM138 489v1h1v-1zM139 490v1h1v-1zM140 490v1h1v-1zM141 491v1h1v-1zM142 491v1h1v-1zM143 492v1h1v-1zM144 493v1h1v-1zM145 493v1h1v-1zM146 494v1h1v-1zM147 495v1h1v-1zM148 496v1h1v-1zM149 497v1h1v-1zM150 497v1h1v-1zM151 498v1h1v-1zM152 499v1h1v-1zM153 500v1h1v-1zM154 501v1h1v-1zM155 502v1h1v-1zM156 503v1h1v-1zM157 504v1h1v-1zM158 505v1h1v-1zM159 506v1h1v-1zM160 507v1h1v-1zM161 508v1h1v-1zM162 508v1h1v-1zM163 509v1h1v-1zM164 510v1h1v-1zM165 511v1h1v-1zM166 511v1h1v-1zM167 512v1h1v-1zM168 513v1h1v-1zM169 513v1h1v-1zM170 514v1h1v-1zM171 515v1h1v-1zM172 515v1h1v-1zM173 516v1h1v-1zM174 516v1h1v-1zM175 517v1h1v-1zM176 517v1h1v-1zM177 518v1h1v-1zM178 518v1h1v-1zM179 519v1h1v-1zM180 519v1h1v-1zM181 520v1h1v-1zM182 520v1h1v-1zM183 521v1h1v-1zM184 521v1h1v-1zM185 522v1h1v-1zM186 522v1h1v-1zM187 523v1h1v-1zM188 523v1h1v-1zM189 523v1h1v-1zM190 524v1h1v-1zM191 524v1h1v-1zM192 524v1h1v-1zM193 525v1h1v-1zM194 525v1h1v-1zM195 525v1h1v-1zM196 526v1h1v-1zM197 526v1h1v-1zM198 526v1h1v-1zM199 527v1h1v-1zM200 527v1h1v-1zM201 528v1h1v-1zM202 528v1h1v-1zM203 529v1h1v-1zM204 529v1h1v-1zM205 530v1h1v-1zM206 530v1h1v-1zM207 530v1h1v-1zM208 531v1h1v-1zM209 531v1h1v-1zM210 531v1h1v-1zM211 532v1h1v-1zM212 532v1h1v-1zM213 533v1h1v-1zM214 533v1h1v-1zM215 534v1h1v-1zM216 535v1h1v-1zM217 535v1h1v-1zM218 536v1h1v-1zM219 537v1h1v-1zM220 537v1h1v-1zM221 538v1h1v-1zM222 539v1h1v-1zM223 539v1h1v-1zM224 540v1h1v-1zM225 541v1h1v-1zM226 542v1h1v-1zM227 543v1h1v-1zM228 543v1h1v-1zM229 544v1h1v-1zM230 545v1h1v-1zM231 546v1h1v-1zM232 547v1h1v-1zM233 548v1h1v-1zM234 548v1h1v-1zM235 549v1h1v-1zM236 550v1h1v-1zM237 551v1h1v-1zM238 552v1h1v-1zM239 553v1h1v-1zM240 554v1h1v-1zM241 555v1h1v-1zM242 556v1h1v-1zM243 557v1h1v-1zM244 558v1h1v-1zM245 559v1h1v-1zM246 560v1h1v-1zM247 561v1h1v-1zM248 562v1h1v-1zM249 563v1h1v-1zM250 564v1h1v-1zM251 565v1h1v-1zM252 566v1h1v-1zM253 567v1h1v-1zM254 568v1h1v-1zM255 569v1h1v-1zM256 570v1h1v-1zM257 571v1h1v-1zM258 571v1h1v-1zM259 572v1h1v-1zM260 573v1h1v-1zM261 574v1h1v-1zM262 575v1h1v-1zM263 576v1h1v-1zM264 576v1h1v-1zM265 577v1h1v-1zM266 578v1h1v-1zM267 579v1h1v-1zM268 580v1h1v-1zM269 581v1h1v-1zM270 581v1h1v-1zM271 582v1h1v-1zM272 583v1h1v-1zM273 584v1h1v-1zM274 584v1h1v-1zM275 585v1h1v-1zM276 586v1h1v-1zM277 586v1h1v-1zM278 587v1h1v-1zM279 588v1h1v-1zM280 588v1h1v-1zM281 589v1h1v-1zM282 589v1h1v-1zM283 590v1h1v-1zM284 590v1h1v-1zM285 591v1h1v-1zM286 591v1h1v-1zM287 592v1h1v-1zM288 593v1h1v-1zM289 593v1h1v-1zM290 594v1h1v-1zM291 595v1h1v-1zM292 595v1h1v-1zM293 596v1h1v-1zM294 596v1h1v-1zM295 597v1h1v-1zM296 597v1h1v-1zM297 598v1h1v-1zM298 598v1h1v-1zM299 599v1h1v-1zM300 600v1h1v-1zM301 600v1h1v-1zM302 601v1h1v-1zM303 602v1h1v-1zM304 602v1h1v-1zM305 603v1h1v-1zM306 603v1h1v-1zM307 604v1h1v-1zM308 604v1h1v-1zM309 604v1h1v-1zM310 605v1h1v-1zM311 605v1h1v-1zM312 605v1h1v-1zM313 606v1h1v-1zM314 606v1h1v-1zM315 606v1h1v-1zM316 607v1h1v-1zM317 607v1h1v-1zM318 607v1h1v-1zM319 608v1h1v-1zM320 608v1h1v-1zM321 608v1h1v-1zM322 608v1h1v-1zM323 608v1h1v-1zM324 608v1h1v-1zM325 608v1h1v-1zM326 608v1h1v-1zM327 608v1h1v-1zM328 608v1h1v-1zM329 608v1h1v-1zM330 608v1h1v-1zM331 608v1h1v-1zM332 608v1h1v-1zM333 608v1h1v-1zM334 608v1h1v-1zM335 608v1h1v-1zM336 608v1h1v-1zM337 608v1h1v-1zM338 608v1h1v-1zM339 608v1h1v-1zM340 608v1h1v-1zM341 608v1h1v-1zM342 608v1h1v-1zM343 608v1h1v-1zM344 608v1h1v-1zM345 608v1h1v-1zM346 608v1h1v-1zM347 608v1h1v-1zM348 608v1h1v-1zM349 608v1h1v-1zM350 608v1h1v-1zM351 608v1h1v-1zM352 608v1h1v-1zM353 608v1h1v-1zM354 608v1h1v-1zM355 608v1h1v-1zM356 608v1h1v-1zM357 608v1h1v-1zM358 608v1h1v-1zM359 608v1h1v-1zM360 608v1h1v-1zM361 608v1h1v-1zM362 608v1h1v-1zM363 608v1h1v-1zM364 608v1h1v-1zM365 607v1h1v-1zM366 607v1h1v-1zM367 607v1h1v-1zM368 607v1h1v-1zM369 607v1h1v-1zM370 607v1h1v-1zM371 606v1h1v-1zM372 606v1h1v-1zM373 606v1h1v-1zM374 606v1h1v-1zM375 606v1h1v-1zM376 606v1h1v-1zM377 605v1h1v-1zM378 605v1h1v-1zM379 605v1h1v-1zM380 605v1h1v-1zM381 605v1h1v-1zM382 604v1h1v-1zM383 604v1h1v-1zM384 604v1h1v-1zM385 603v1h1v-1zM386 603v1h1v-1zM387 603v1h1v-1zM388 603v1h1v-1zM389 602v1h1v-1zM390 602v1h1v-1zM391 602v1h1v-1zM392 602v1h1v-1zM393 602v1h1v-1zM394 601v1h1v-1zM395 601v1h1v-1zM396 601v1h1v-1zM397 600v1h1v-1zM398 600v1h1v-1zM399 600v1h1v-1zM400 599v1h1v-1zM401 599v1h1v-1zM402 599v1h1v-1zM403 598v1h1v-1zM404 598v1h1v-1zM405 598v1h1v-1zM406 597v1h1v-1zM407 597v1h1v-1zM408 597v1h1v-1zM409 596v1h1v-1zM410 596v1h1v-1zM411 595v1h1v-1zM412 595v1h1v-1zM413 594v1h1v-1zM414 594v1h1v-1zM415 593v1h1v-1zM416 593v1h1v-1zM417 592v1h1v-1zM418 592v1h1v-1zM419 591v1h1v-1zM420 590v1h1v-1zM421 590v1h1v-1zM422 589v1h1v-1zM423 588v1h1v-1zM424 587v1h1v-1zM425 586v1h1v-1zM426 586v1h1v-1zM427 585v1h1v-1zM428 584v1h1v-1zM429 583v1h1v-1zM430 582v1h1v-1zM431 581v1h1v-1zM432 581v1h1v-1zM433 580v1h1v-1zM434 579v1h1v-1zM435 578v1h1v-1zM436 577v1h1v-1zM437 576v1h1v-1zM438 576v1h1v-1zM439 575v1h1v-1zM440 574v1h1v-1zM441 573v1h1v-1zM442 573v1h1v-1zM443 572v1h1v-1zM444 572v1h1v-1zM445 571v1h1v-1zM446 571v1h1v-1zM447 570v1h1v-1zM448 570v1h1v-1zM449 569v1h1v-1zM450 568v1h1v-1zM451 568v1h1v-1zM452 567v1h1v-1zM453 566v1h1v-1zM454 566v1h1v-1zM455 565v1h1v-1zM456 564v1h1v-1zM457 564v1h1v-1zM458 563v1h1v-1zM459 562v1h1v-1zM460 562v1h1v-1zM461 561v1h1v-1zM462 561v1h1v-1zM463 560v1h1v-1zM464 560v1h1v-1zM465 559v1h1v-1zM466 559v1h1v-1zM467 558v1h1v-1zM468 558v1h1v-1zM469 557v1h1v-1zM470 557v1h1v-1zM471 556v1h1v-1zM472 556v1h1v-1zM473 555v1h1v-1zM474 555v1h1v-1zM475 554v1h1v-1zM476 554v1h1v-1zM477 554v1h1v-1zM478 553v1h1v-1zM479 553v1h1v-1zM480 553v1h1v-1zM481 552v1h1v-1zM482 552v1h1v-1zM483 552v1h1v-1zM484 552v1h1v-1zM485 552v1h1v-1zM486 552v1h1v-1zM487 552v1h1v-1zM488 552v1h1v-1zM489 552v1h1v-1zM490 552v1h1v-1zM491 551v1h1v-1zM492 551v1h1v-1zM493 551v1h1v-1zM494 551v1h1v-1zM495 551v1h1v-1zM496 550v1h1v-1zM497 550v1h1v-1zM498 550v1h1v-1zM499 549v1h1v-1zM500 549v1h1v-1zM501 549v1h1v-1zM502 548v1h1v-1zM503 548v1h1v-1zM504 548v1h1v-1zM505 547v1h1v-1zM506 547v1h1v-1zM507 547v1h1v-1zM508 546v1h1v-1zM509 546v1h1v-1zM510 546v1h1v-1zM511 545v1h1v-1zM512 545v1h1v-1zM513 545v1h1v-1zM514 545v1h1v-1zM515 544v1h1v-1zM516 544v1h1v-1zM517 544v1h1v-1zM518 544v1h1v-1zM519 544v1h1v-1zM520 544v1h1v-1zM521 543v1h1v-1zM522 543v1h1v-1zM523 543v1h1v-1zM524 543v1h1v-1zM525 543v1h1v-1zM526 542v1h1v-1zM527 542v1h1v-1zM528 542v1h1v-1zM529 541v1h1v-1zM530 541v1h1v-1zM531 541v1h1v-1zM532 541v1h1v-1zM533 540v1h1v-1zM534 540v1h1v-1zM535 540v1h1v-1zM536 540v1h1v-1zM537 540v1h1v-1zM538 540v1h1v-1zM539 540v1h1v-1zM540 540v1h1v-1zM541 540v1h1v-1zM542 540v1h1v-1zM543 540v1h1v-1zM544 540v1h1v-1zM545 540v1h1v-1zM546 540v1h1v-1zM547 540v1h1v-1zM548 540v1h1v-1zM549 540v1h1v-1zM550 540v1h1v-1zM551 541v1h1v-1zM552 541v1h1v-1zM553 541v1h1v-1zM554 541v1h1v-1zM555 541v1h1v-1zM556 541v1h1v-1zM557 542v1h1v-1zM558 542v1h1v-1zM559 542v1h1v-1zM560 542v1h1v-1zM561 542v1h1v-1zM562 542v1h1v-1zM563 543v1h1v-1zM564 543v1h1v-1zM565 543v1h1v-1zM566 543v1h1v-1zM567 543v1h1v-1zM568 543v1h1v-1zM569 544v1h1v-1zM570 544v1h1v-1zM571 544v1h1v-1zM572 544v1h1v-1zM573 544v1h1v-1zM574 545v1h1v-1zM575 545v1h1v-1zM576 545v1h1v-1zM577 546v1h1v-1zM578 546v1h1v-1zM579 546v1h1v-1zM580 547v1h1v-1zM581 547v1h1v-1zM582 547v1h1v-1zM583 548v1h1v-1zM584 548v1h1v-1zM585 548v1h1v-1zM586 549v1h1v-1zM587 549v1h1v-1zM588 549v1h1v-1zM589 550v1h1v-1zM590 550v1h1v-1zM591 551v1h1v-1zM592 551v1h1v-1zM593 552v1h1v-1zM594 552v1h1v-1zM595 553v1h1v-1zM596 553v1h1v-1zM597 553v1h1v-1zM598 554v1h1v-1zM599 554v1h1v-1zM600 554v1h1v-1zM601 555v1h1v-1zM602 555v1h1v-1zM603 556v1h1v-1zM604 556v1h1v-1zM605 557v1h1v-1zM606 557v1h1v-1zM607 558v1h1v-1zM608 558v1h1v-1zM609 559v1h1v-1zM610 559v1h1v-1zM611 560v1h1v-1zM612 560v1h1v-1zM613 561v1h1v-1zM614 561v1h1v-1zM615 562v1h1v-1zM616 562v1h1v-1zM617 563v1h1v-1zM618 564v1h1v-1zM619 564v1h1v-1zM620 565v1h1v-1zM621 566v1h1v-1zM622 567v1h1v-1zM623 568v1h1v-1zM624 569v1h1v-1zM625 570v1h1v-1zM626 571v1h1v-1zM627 572v1h1v-1zM628 573v1h1v-1zM629 574v1h1v-1zM630 575v1h1v-1zM631 576v1h1v-1zM632 577v1h1v-1zM633 578v1h1v-1zM634 579v1h1v-1zM635 580v1h1v-1zM636 581v1h1v-1zM637 582v1h1v-1zM638 583v1h1v-1zM639 584v1h1v-1zM640 585v1h1v-1zM641 586v1h1v-1zM642 586v1h1v-1zM643 587v1h1v-1zM644 588v1h1v-1zM645 589v1h1v-1zM646 589v1h1v-1zM647 590v1h1v-1zM648 591v1h1v-1zM649 591v1h1v-1zM650 592v1h1v-1zM651 593v1h1v-1zM652 593v1h1v-1zM653 594v1h1v-1zM654 595v1h1v-1zM655 595v1h1v-1zM656 596v1h1v-1zM657 596v1h1v-1zM658 597v1h1v-1zM659 597v1h1v-1zM660 597v1h1v-1zM661 598v1h1v-1zM662 598v1h1v-1zM663 598v1h1v-1zM664 598v1h1v-1zM665 599v1h1v-1zM666 599v1h1v-1zM667 599v1h1v-1zM668 599v1h1v-1zM669 599v1h1v-1zM670 599v1h1v-1zM671 599v1h1v-1zM672 599v1h1v-1zM673 599v1h1v-1zM674 599v1h1v-1zM675 599v1h1v-1zM676 599v1h1v-1zM677 598v1h1v-1zM678 598v1h1v-1zM679 598v1h1v-1zM680 598v1h1v-1zM681 598v1h1v-1zM682 597v1h1v-1zM683 597v1h1v-1zM684 597v1h1v-1zM685 596v1h1v-1zM686 596v1h1v-1zM687 596v1h1v-1zM688 596v1h1v-1zM689 595v1h1v-1zM690 595v1h1v-1zM691 595v1h1v-1zM692 595v1h1v-1zM693 595v1h1v-1zM694 595v1h1v-1zM695 594v1h1v-1zM696 594v1h1v-1zM697 594v1h1v-1zM698 594v1h1v-1zM699 594v1h1v-1zM700 594v1h1v-1zM701 593v1h1v-1zM702 593v1h1v-1zM703 593v1h1v-1zM704 593v1h1v-1zM705 593v1h1v-1zM706 593v1h1v-1zM707 592v1h1v-1zM708 592v1h1v-1zM709 592v1h1v-1zM710 592v1h1v-1zM711 592v1h1v-1zM712 592v1h1v-1zM713 592v1h1v-1zM714 592v1h1v-1zM715 592v1h1v-1zM716 592v1h1v-1zM717 592v1h1v-1zM718 592v1h1v-1zM719 591v1h1v-1zM720 591v1h1v-1zM721 591v1h1v-1zM722 591v1h1v-1zM723 591v1h1v-1zM724 591v1h1v-1zM725 591v1h1v-1zM726 591v1h1v-1zM727 591v1h1v-1zM728 591v1h1v-1zM729 591v1h1v-1zM730 591v1h1v-1zM731 590v1h1v-1zM732 590v1h1v-1zM733 590v1h1v-1zM734 590v1h1v-1zM735 590v1h1v-1zM736 590v1h1v-1zM737 590v1h1v-1zM738 590v1h1v-1zM739 590v1h1v-1zM740 590v1h1v-1zM741 590v1h1v-1zM742 590v1h1v-1zM743 589v1h1v-1zM744 589v1h1v-1zM745 589v1h1v-1zM746 589v1h1v-1zM747 589v1h1v-1zM748 589v1h1v-1zM749 588v1h1v-1zM750 588v1h1v-1zM751 588v1h1v-1zM752 588v1h1v-1zM753 588v1h1v-1zM754 588v1h1v-1zM755 588v1h1v-1zM756 588v1h1v-1zM757 588v1h1v-1zM758 588v1h1v-1zM759 588v1h1v-1zM760 588v1h1v-1zM761 587v1h1v-1zM762 587v1h1v-1zM763 587v1h1v-1zM764 587v1h1v-1zM765 587v1h1v-1zM766 587v1h1v-1zM767 587v1h1v-1zM768 587v1h1v-1zM769 587v1h1v-1zM770 587v1h1v-1zM771 587v1h1v-1zM772 586v1h1v-1zM773 586v1h1v-1zM774 586v1h1v-1zM775 585v1h1v-1zM776 585v1h1v-1zM777 585v1h1v-1zM778 584v1h1v-1zM779 584v1h1v-1zM780 584v1h1v-1zM781 583v1h1v-1zM782 583v1h1v-1zM783 582v1h1v-1zM784 582v1h1v-1zM785 581v1h1v-1zM786 580v1h1v-1zM787 580v1h1v-1zM788 579v1h1v-1zM789 578v1h1v-1zM790 577v1h1v-1zM791 576v1h1v-1zM792 575v1h1v-1zM793 574v1h1v-1zM794 573v1h1v-1zM795 572v1h1v-1zM796 571v1h1v-1zM797 569v2h1v-2zM798 568v1h1v-1zM799 567v1h1v-1zM800 566v1h1v-1zM801 565v1h1v-1zM802 564v1h1v-1zM803 562v2h1v-2zM804 561v1h1v-1zM805 560v1h1v-1zM806 559v1h1v-1zM807 558v1h1v-1zM808 557v1h1v-1zM809 556v1h1v-1zM810 555v1h1v-1zM811 554v1h1v-1zM812 553v1h1v-1zM813 552v1h1v-1zM814 551v1h1v-1zM815 550v1h1v-1zM816 549v1h1v-1zM817 548v1h1v-1zM818 547v1h1v-1zM819 546v1h1v-1zM820 545v1h1v-1zM821 543v2h1v-2zM822 542v1h1v-1zM823 541v1h1v-1zM824 540v1h1v-1zM825 539v1h1v-1zM826 538v1h1v-1zM827 537v1h1v-1zM828 536v1h1v-1zM829 535v1h1v-1zM830 534v1h1v-1zM831 533v1h1v-1zM832 532v1h1v-1zM833 531v1h1v-1zM834 530v1h1v-1zM835 529v1h1v-1zM836 528v1h1v-1zM837 527v1h1v-1zM838 526v1h1v-1zM839 525v1h1v-1zM840 524v1h1v-1zM841 523v1h1v-1zM842 522v1h1v-1zM843 521v1h1v-1zM844 520v1h1v-1zM845 518v2h1v-2zM846 517v1h1v-1zM847 516v1h1v-1zM848 515v1h1v-1zM849 514v1h1v-1zM850 513v1h1v-1zM851 512v1h1v-1zM852 511v1h1v-1zM853 510v1h1v-1zM854 509v1h1v-1zM855 508v1h1v-1zM856 507v1h1v-1zM857 506v1h1v-1zM858 506v1h1v-1zM859 505v1h1v-1zM860 504v1h1v-1zM861 503v1h1v-1zM862 503v1h1v-1zM863 502v1h1v-1zM864 501v1h1v-1zM865 501v1h1v-1zM866 500v1h1v-1z" fill="#e8e018" shape-rendering="crispEdges"/>
<path d="M74 487v1h1v-1zM75 485v2h1v-2zM76 484v1h1v-1zM77 482v2h1v-2zM78 481v1h1v-1zM79 479v2h1v-2zM80 478v1h1v-1zM81 477v1h1v-1zM82 476v1h1v-1zM83 475v1h1v-1zM84 474v1h1v-1zM85 473v1h1v-1zM86 472v1h1v-1zM87 472v1h1v-1zM88 472v1h1v-1zM89 473v1h1v-1zM90 473v1h1v-1zM91 473v1h1v-1zM92 473v1h1v-1zM93 473v1h1v-1zM94 472v1h1v-1zM95 472v1h1v-1zM96 472v1h1v-1zM97 471v1h1v-1zM98 471v1h1v-1zM99 471v1h1v-1zM100 471v1h1v-1zM101 471v1h1v-1zM102 471v1h1v-1zM103 471v1h1v-1zM104 471v1h1v-1zM105 471v1h1v-1zM106 471v1h1v-1zM107 470v1h1v-1zM108 470v1h1v-1zM109 470v1h1v-1zM110 470v1h1v-1zM111 471v1h1v-1zM112 472v1h1v-1zM113 473v1h1v-1zM114 473v1h1v-1zM115 474v1h1v-1zM116 475v1h1v-1zM117 476v1h1v-1zM118 477v2h1v-2zM119 479v1h1v-1zM120 480v1h1v-1zM121 481v2h1v-2zM122 483v1h1v-1zM123 484v1h1v-1zM124 485v1h1v-1zM125 486v2h1v-2zM126 488v1h1v-1zM127 489v1h1v-1zM128 490v1h1v-1zM129 491v1h1v-1zM130 492v1h1v-1zM131 493v1h1v-1zM132 494v1h1v-1zM133 495v1h1v-1zM134 496v1h1v-1zM135 497v1h1v-1zM136 498v1h1v-1zM137 499v2h1v-2zM138 501v1h1v-1zM139 502v1h1v-1zM140 503v1h1v-1zM141 504v2h1v-2zM142 506v2h1v-2zM143 508v1h1v-1zM144 509v2h1v-2zM145 511v2h1v-2zM146 513v1h1v-1zM147 514v1h1v-1zM148 515v1h1v-1zM149 516v2h1v-2zM150 518v1h1v-1zM151 519v1h1v-1zM152 520v1h1v-1zM153 521v1h1v-1zM154 522v1h1v-1zM155 523v1h1v-1zM156 524v1h1v-1zM157 525v1h1v-1zM158 526v1h1v-1zM159 527v1h1v-1zM160 528v1h1v-1zM161 529v1h1v-1zM162 530v1h1v-1zM163 531v1h1v-1zM164 532v1h1v-1zM165 531v1h1v-1zM166 531v1h1v-1zM167 530v1h1v-1zM168 530v1h1v-1zM169 529v1h1v-1zM170 529v1h1v-1zM171 529v1h1v-1zM172 529v1h1v-1zM173 529v1h1v-1zM174 529v1h1v-1zM175 529v1h1v-1zM176 529v1h1v-1zM177 530v1h1v-1zM178 530v1h1v-1zM179 531v1h1v-1zM180 532v1h1v-1zM181 532v1h1v-1zM182 533v1h1v-1zM183 533v1h1v-1zM184 533v1h1v-1zM185 533v1h1v-1zM186 533v1h1v-1zM187 533v1h1v-1zM188 533v1h1v-1zM189 533v1h1v-1zM190 534v1h1v-1zM191 534v1h1v-1zM192 534v1h1v-1zM193 535v1h1v-1zM194 535v1h1v-1zM195 535v1h1v-1zM196 536v1h1v-1zM197 536v1h1v-1zM198 536v1h1v-1zM199 537v1h1v-1zM200 537v1h1v-1zM201 538v1h1v-1zM202 538v1h1v-1zM203 539v1h1v-1zM204 539v1h1v-1zM205 540v1h1v-1zM206 540v1h1v-1zM207 541v1h1v-1zM208 541v1h1v-1zM209 542v1h1v-1zM210 543v1h1v-1zM211 543v1h1v-1zM212 544v1h1v-1zM213 545v1h1v-1zM214 546v1h1v-1zM215 547v2h1v-2zM216 549v1h1v-1zM217 550v1h1v-1zM218 551v1h1v-1zM219 552v1h1v-1zM220 553v2h1v-2zM221 555v1h1v-1zM222 556v1h1v-1zM223 557v2h1v-2zM224 559v1h1v-1zM225 560v1h1v-1zM226 561v1h1v-1zM227 562v1h1v-1zM228 563v1h1v-1zM229 564v1h1v-1zM230 565v1h1v-1zM231 566v1h1v-1zM232 566v1h1v-1zM233 567v1h1v-1zM234 568v1h1v-1zM235 568v1h1v-1zM236 569v1h1v-1zM237 570v1h1v-1zM238 571v1h1v-1zM239 572v1h1v-1zM240 572v1h1v-1zM241 573v1h1v-1zM242 574v1h1v-1zM243 575v2h1v-2zM244 577v2h1v-2zM245 579v2h1v-2zM246 581v2h1v-2zM247 583v2h1v-2zM248 585v2h1v-2zM249 587v1h1v-1zM250 588v1h1v-1zM251 589v1h1v-1zM252 590v1h1v-1zM253 591v1h1v-1zM254 592v1h1v-1zM255 593v1h1v-1zM256 593v1h1v-1zM257 594v1h1v-1zM258 595v1h1v-1zM259 595v1h1v-1zM260 596v1h1v-1zM261 597v1h1v-1zM262 597v1h1v-1zM263 598v1h1v-1zM264 598v1h1v-1zM265 599v1h1v-1zM266 599v1h1v-1zM267 599v1h1v-1zM268 600v1h1v-1zM269 600v1h1v-1zM270 600v1h1v-1zM271 601v1h1v-1zM272 601v1h1v-1zM273 601v1h1v-1zM274 601v1h1v-1zM275 602v1h1v-1zM276 602v1h1v-1zM277 602v1h1v-1zM278 602v1h1v-1zM279 602v1h1v-1zM280 602v1h1v-1zM281 603v1h1v-1zM282 603v1h1v-1zM283 603v1h1v-1zM284 603v1h1v-1zM285 604v1h1v-1zM286 605v1h1v-1zM287 606v1h1v-1zM288 606v1h1v-1zM289 607v1h1v-1zM290 608v1h1v-1zM291 609v1h1v-1zM292 610v1h1v-1zM293 611v1h1v-1zM294 611v1h1v-1zM295 612v1h1v-1zM296 613v1h1v-1zM297 613v1h1v-1zM298 614v1h1v-1zM299 614v1h1v-1zM300 614v1h1v-1zM301 615v1h1v-1zM302 615v1h1v-1zM303 615v1h1v-1zM304 615v1h1v-1zM305 616v1h1v-1zM306 616v1h1v-1zM307 616v1h1v-1zM308 616v1h1v-1zM309 616v1h1v-1zM310 617v1h1v-1zM311 617v1h1v-1zM312 617v1h1v-1zM313 618v1h1v-1zM314 618v1h1v-1zM315 618v1h1v-1zM316 617v1h1v-1zM317 617v1h1v-1zM318 617v1h1v-1zM319 616v1h1v-1zM320 616v1h1v-1zM321 615v1h1v-1zM322 614v1h1v-1zM323 613v1h1v-1zM324 612v1h1v-1zM325 611v1h1v-1zM326 610v1h1v-1zM327 609v1h1v-1zM328 609v1h1v-1zM329 608v1h1v-1zM330 608v1h1v-1zM331 607v1h1v-1zM332 607v1h1v-1zM333 607v1h1v-1zM334 607v1h1v-1zM335 608v1h1v-1zM336 608v1h1v-1zM337 608v1h1v-1zM338 608v1h1v-1zM339 608v1h1v-1zM340 608v1h1v-1zM341 609v1h1v-1zM342 609v1h1v-1zM343 609v1h1v-1zM344 609v1h1v-1zM345 609v1h1v-1zM346 609v1h1v-1zM347 608v1h1v-1zM348 608v1h1v-1zM349 608v1h1v-1zM350 608v1h1v-1zM351 608v1h1v-1zM352 608v1h1v-1zM353 607v1h1v-1zM354 607v1h1v-1zM355 607v1h1v-1zM356 607v1h1v-1zM357 607v1h1v-1zM358 606v1h1v-1zM359 606v1h1v-1zM360 606v1h1v-1zM361 605v1h1v-1zM362 605v1h1v-1zM363 605v1h1v-1zM364 605v1h1v-1zM365 604v1h1v-1zM366 604v1h1v-1zM367 604v1h1v-1zM368 604v1h1v-1zM369 603v1h1v-1zM370 603v1h1v-1zM371 602v1h1v-1zM372 602v1h1v-1zM373 601v1h1v-1zM374 601v1h1v-1zM375 601v1h1v-1zM376 601v1h1v-1zM377 600v1h1v-1zM378 600v1h1v-1zM379 600v1h1v-1zM380 600v1h1v-1zM381 600v1h1v-1zM382 599v1h1v-1zM383 599v1h1v-1zM384 599v1h1v-1zM385 598v1h1v-1zM386 598v1h1v-1zM387 598v1h1v-1zM388 597v1h1v-1zM389 597v1h1v-1zM390 597v1h1v-1zM391 596v1h1v-1zM392 596v1h1v-1zM393 596v1h1v-1zM394 595v1h1v-1zM395 595v1h1v-1zM396 595v1h1v-1zM397 594v1h1v-1zM398 594v1h1v-1zM399 593v1h1v-1zM400 593v1h1v-1zM401 592v1h1v-1zM402 591v1h1v-1zM403 591v1h1v-1zM404 590v1h1v-1zM405 589v1h1v-1zM406 589v1h1v-1zM407 588v1h1v-1zM408 587v1h1v-1zM409 587v1h1v-1zM410 586v1h1v-1zM411 585v1h1v-1zM412 585v1h1v-1zM413 584v1h1v-1zM414 584v1h1v-1zM415 583v1h1v-1zM416 583v1h1v-1zM417 581v2h1v-2zM418 579v2h1v-2zM419 578v1h1v-1zM420 576v2h1v-2zM421 574v2h1v-2zM422 573v1h1v-1zM423 571v2h1v-2zM424 569v2h1v-2zM425 568v1h1v-1zM426 566v2h1v-2zM427 564v2h1v-2zM428 563v1h1v-1zM429 562v1h1v-1zM430 561v1h1v-1zM431 559v2h1v-2zM432 558v1h1v-1zM433 557v1h1v-1zM434 556v1h1v-1zM435 556v1h1v-1zM436 556v1h1v-1zM437 556v1h1v-1zM438 556v1h1v-1zM439 556v1h1v-1zM440 556v1h1v-1zM441 556v1h1v-1zM442 556v1h1v-1zM443 556v1h1v-1zM444 556v1h1v-1zM445 556v1h1v-1zM446 556v1h1v-1zM447 555v1h1v-1zM448 555v1h1v-1zM449 554v1h1v-1zM450 553v1h1v-1zM451 553v1h1v-1zM452 552v1h1v-1zM453 551v1h1v-1zM454 551v1h1v-1zM455 550v1h1v-1zM456 550v1h1v-1zM457 549v1h1v-1zM458 549v1h1v-1zM459 548v1h1v-1zM460 548v1h1v-1zM461 547v1h1v-1zM462 547v1h1v-1zM463 546v1h1v-1zM464 546v1h1v-1zM465 546v1h1v-1zM466 545v1h1v-1zM467 545v1h1v-1zM468 545v1h1v-1zM469 544v1h1v-1zM470 544v1h1v-1zM471 544v1h1v-1zM472 544v1h1v-1zM473 543v1h1v-1zM474 543v1h1v-1zM475 543v1h1v-1zM476 543v1h1v-1zM477 544v1h1v-1zM478 544v1h1v-1zM479 545v1h1v-1zM480 545v1h1v-1zM481 546v1h1v-1zM482 546v1h1v-1zM483 546v1h1v-1zM484 547v1h1v-1zM485 547v1h1v-1zM486 547v1h1v-1zM487 548v1h1v-1zM488 548v1h1v-1zM489 548v1h1v-1zM490 548v1h1v-1zM491 548v1h1v-1zM492 548v1h1v-1zM493 548v1h1v-1zM494 548v1h1v-1zM495 547v1h1v-1zM496 546v1h1v-1zM497 545v1h1v-1zM498 544v1h1v-1zM499 543v1h1v-1zM500 542v1h1v-1zM501 541v1h1v-1zM502 541v1h1v-1zM503 540v1h1v-1zM504 539v1h1v-1zM505 539v1h1v-1zM506 538v1h1v-1zM507 538v1h1v-1zM508 538v1h1v-1zM509 538v1h1v-1zM510 538v1h1v-1zM511 538v1h1v-1zM512 538v1h1v-1zM513 538v1h1v-1zM514 538v1h1v-1zM515 539v1h1v-1zM516 539v1h1v-1zM517 539v1h1v-1zM518 539v1h1v-1zM519 539v1h1v-1zM520 539v1h1v-1zM521 538v1h1v-1zM522 538v1h1v-1zM523 538v1h1v-1zM524 538v1h1v-1zM525 538v1h1v-1zM526 537v1h1v-1zM527 537v1h1v-1zM528 537v1h1v-1zM529 536v1h1v-1zM530 536v1h1v-1zM531 536v1h1v-1zM532 536v1h1v-1zM533 535v1h1v-1zM534 535v1h1v-1zM535 535v1h1v-1zM536 535v1h1v-1zM537 535v1h1v-1zM538 536v1h1v-1zM539 536v1h1v-1zM540 536v1h1v-1zM541 537v1h1v-1zM542 537v1h1v-1zM543 538v1h1v-1zM544 538v1h1v-1zM545 539v1h1v-1zM546 540v1h1v-1zM547 540v1h1v-1zM548 541v1h1v-1zM549 542v1h1v-1zM550 542v1h1v-1zM551 543v1h1v-1zM552 543v1h1v-1zM553 544v1h1v-1zM554 544v1h1v-1zM555 544v1h1v-1zM556 544v1h1v-1zM557 545v1h1v-1zM558 545v1h1v-1zM559 545v1h1v-1zM560 545v1h1v-1zM561 545v1h1v-1zM562 545v1h1v-1zM563 546v1h1v-1zM564 546v1h1v-1zM565 546v1h1v-1zM566 546v1h1v-1zM567 547v1h1v-1zM568 547v1h1v-1zM569 548v1h1v-1zM570 548v1h1v-1zM571 549v1h1v-1zM572 549v1h1v-1zM573 550v1h1v-1zM574 551v1h1v-1zM575 552v1h1v-1zM576 553v1h1v-1zM577 554v1h1v-1zM578 555v1h1v-1zM579 555v1h1v-1zM580 555v1h1v-1zM581 554v1h1v-1zM582 554v1h1v-1zM583 554v1h1v-1zM584 554v1h1v-1zM585 555v1h1v-1zM586 556v1h1v-1zM587 557v2h1v-2zM588 559v1h1v-1zM589 560v1h1v-1zM590 561v1h1v-1zM591 562v1h1v-1zM592 562v1h1v-1zM593 563v1h1v-1zM594 563v1h1v-1zM595 564v1h1v-1zM596 564v1h1v-1zM597 564v1h1v-1zM598 565v1h1v-1zM599 565v1h1v-1zM600 565v1h1v-1zM601 566v1h1v-1zM602 566v1h1v-1zM603 566v1h1v-1zM604 567v1h1v-1zM605 567v1h1v-1zM606 567v1h1v-1zM607 568v1h1v-1zM608 568v1h1v-1zM609 569v1h1v-1zM610 569v1h1v-1zM611 570v1h1v-1zM612 570v1h1v-1zM613 571v1h1v-1zM614 571v1h1v-1zM615 572v2h1v-2zM616 574v1h1v-1zM617 575v2h1v-2zM618 577v1h1v-1zM619 578v2h1v-2zM620 580v1h1v-1zM621 581v2h1v-2zM622 583v2h1v-2zM623 585v2h1v-2zM624 587v2h1v-2zM625 589v2h1v-2zM626 591v2h1v-2zM627 593v2h1v-2zM628 595v2h1v-2zM629 597v1h1v-1zM630 598v2h1v-2zM631 600v2h1v-2zM632 602v1h1v-1zM633 603v1h1v-1zM634 604v1h1v-1zM635 605v1h1v-1zM636 606v1h1v-1zM637 607v1h1v-1zM638 608v1h1v-1zM639 609v1h1v-1zM640 609v1h1v-1zM641 610v1h1v-1zM642 610v1h1v-1zM643 611v1h1v-1zM644 611v1h1v-1zM645 611v1h1v-1zM646 611v1h1v-1zM647 612v1h1v-1zM648 612v1h1v-1zM649 612v1h1v-1zM650 612v1h1v-1zM651 612v1h1v-1zM652 611v1h1v-1zM653 611v1h1v-1zM654 611v1h1v-1zM655 610v1h1v-1zM656 610v1h1v-1zM657 609v1h1v-1zM658 609v1h1v-1zM659 608v1h1v-1zM660 608v1h1v-1zM661 607v1h1v-1zM662 607v1h1v-1zM663 606v1h1v-1zM664 606v1h1v-1zM665 605v1h1v-1zM666 605v1h1v-1zM667 604v1h1v-1zM668 604v1h1v-1zM669 603v1h1v-1zM670 602v1h1v-1zM671 601v1h1v-1zM672 601v1h1v-1zM673 600v1h1v-1zM674 599v1h1v-1zM675 598v1h1v-1zM676 597v1h1v-1zM677 596v1h1v-1zM678 595v1h1v-1zM679 594v1h1v-1zM680 593v1h1v-1zM681 592v1h1v-1zM682 592v1h1v-1zM683 591v1h1v-1zM684 591v1h1v-1zM685 590v1h1v-1zM686 590v1h1v-1zM687 589v1h1v-1zM688 589v1h1v-1zM689 588v1h1v-1zM690 588v1h1v-1zM691 587v1h1v-1zM692 587v1h1v-1zM693 588v1h1v-1zM694 588v1h1v-1zM695 589v1h1v-1zM696 589v1h1v-1zM697 590v1h1v-1zM698 590v1h1v-1zM699 590v1h1v-1zM700 591v1h1v-1zM701 591v1h1v-1zM702 591v1h1v-1zM703 592v1h1v-1zM704 592v1h1v-1zM705 591v1h1v-1zM706 591v1h1v-1zM707 590v1h1v-1zM708 590v1h1v-1zM709 589v1h1v-1zM710 589v1h1v-1zM711 589v1h1v-1zM712 588v1h1v-1zM713 588v1h1v-1zM714 588v1h1v-1zM715 587v1h1v-1zM716 587v1h1v-1zM717 587v1h1v-1zM718 587v1h1v-1zM719 587v1h1v-1zM720 587v1h1v-1zM721 587v1h1v-1zM722 587v1h1v-1zM723 587v1h1v-1zM724 587v1h1v-1zM725 588v1h1v-1zM726 588v1h1v-1zM727 588v1h1v-1zM728 588v1h1v-1zM729 588v1h1v-1zM730 588v1h1v-1zM731 589v1h1v-1zM732 589v1h1v-1zM733 589v1h1v-1zM734 589v1h1v-1zM735 589v1h1v-1zM736 589v1h1v-1zM737 589v1h1v-1zM738 589v1h1v-1zM739 589v1h1v-1zM740 589v1h1v-1zM741 589v1h1v-1zM742 588v1h1v-1zM743 588v1h1v-1zM744 588v1h1v-1zM745 587v1h1v-1zM746 587v1h1v-1zM747 586v1h1v-1zM748 586v1h1v-1zM749 585v1h1v-1zM750 584v1h1v-1zM751 584v1h1v-1zM752 583v1h1v-1zM753 584v1h1v-1zM754 584v1h1v-1zM755 585v1h1v-1zM756 585v1h1v-1zM757 586v1h1v-1zM758 586v1h1v-1zM759 586v1h1v-1zM760 587v1h1v-1zM761 587v1h1v-1zM762 587v1h1v-1zM763 588v1h1v-1zM764 588v1h1v-1zM765 587v1h1v-1zM766 587v1h1v-1zM767 586v1h1v-1zM768 585v1h1v-1zM769 585v1h1v-1zM770 584v1h1v-1zM771 583v1h1v-1zM772 583v1h1v-1zM773 582v1h1v-1zM774 581v1h1v-1zM775 581v1h1v-1zM776 580v1h1v-1zM777 579v1h1v-1zM778 579v1h1v-1zM779 578v1h1v-1zM780 577v1h1v-1zM781 577v1h1v-1zM782 576v1h1v-1zM783 574v2h1v-2zM784 572v2h1v-2zM785 570v2h1v-2zM786 568v2h1v-2zM787 566v2h1v-2zM788 564v2h1v-2zM789 562v2h1v-2zM790 559v3h1v-3zM791 556v3h1v-3zM792 554v2h1v-2zM793 551v3h1v-3zM794 549v2h1v-2zM795 547v2h1v-2zM796 545v2h1v-2zM797 543v2h1v-2zM798 541v2h1v-2zM799 539v2h1v-2zM800 538v1h1v-1zM801 537v1h1v-1zM802 535v2h1v-2zM803 534v1h1v-1zM804 533v1h1v-1zM805 531v2h1v-2zM806 530v1h1v-1zM807 529v1h1v-1zM808 529v1h1v-1zM809 528v1h1v-1zM810 527v1h1v-1zM811 527v1h1v-1zM812 526v1h1v-1zM813 525v1h1v-1zM814 525v1h1v-1zM815 524v1h1v-1zM816 524v1h1v-1zM817 523v1h1v-1zM818 523v1h1v-1zM819 521v2h1v-2zM820 519v2h1v-2zM821 518v1h1v-1zM822 516v2h1v-2zM823 514v2h1v-2zM824 513v1h1v-1zM825 512v1h1v-1zM826 511v1h1v-1zM827 510v1h1v-1zM828 510v1h1v-1zM829 509v1h1v-1zM830 508v1h1v-1zM831 507v1h1v-1zM832 507v1h1v-1zM833 506v1h1v-1zM834 505v1h1v-1zM835 505v1h1v-1zM836 504v1h1v-1zM837 503v1h1v-1zM838 503v1h1v-1zM839 502v1h1v-1zM840 501v1h1v-1zM841 501v1h1v-1zM842 499v2h1v-2zM843 496v3h1v-3zM844 493v3h1v-3zM845 490v3h1v-3zM846 487v3h1v-3zM847 484v3h1v-3zM848 482v2h1v-2zM849 483v1h1v-1zM850 483v1h1v-1zM851 484v1h1v-1zM852 484v1h1v-1zM853 485v1h1v-1zM854 485v1h1v-1zM855 485v1h1v-1zM856 485v1h1v-1zM857 485v1h1v-1zM858 485v1h1v-1zM859 485v1h1v-1zM860 485v1h1v-1zM861 485v1h1v-1zM862 485v1h1v-1zM863 484v1h1v-1zM864 484v1h1v-1zM865 484v1h1v-1zM866 484v1h1v-1z" fill="#f0f0f0" shape-rendering="crispEdges"/>
<text x="72.6" y="463" font-family="Liberation Sans, sans-serif" font-size="12" fill="#e8e8e8" text-anchor="start" textLength="85" lengthAdjust="spacingAndGlyphs">MACD(26,12,9)</text>
<text x="163" y="463" font-family="Liberation Sans, sans-serif" font-size="12" fill="#e8e8e8" text-anchor="start" textLength="64.6" lengthAdjust="spacingAndGlyphs">DIFF:0.0004</text>
<text x="237" y="463" font-family="Liberation Sans, sans-serif" font-size="12" fill="#d8d020" text-anchor="start" textLength="63.5" lengthAdjust="spacingAndGlyphs">DEA:0.0004</text>
<text x="309.6" y="463" font-family="Liberation Sans, sans-serif" font-size="12" fill="#d020d0" text-anchor="start" textLength="76.7" lengthAdjust="spacingAndGlyphs">MACD:0.0002</text>
<g><circle cx="8.8" cy="456" r="3.1" fill="#fff"/><circle cx="8.8" cy="456" r="1.5" fill="#f00"/>
<line x1="13.40" y1="456.00" x2="16.20" y2="456.00" stroke="#f00" stroke-width="1"/>
<line x1="12.05" y1="459.25" x2="14.03" y2="461.23" stroke="#f00" stroke-width="1"/>
<line x1="8.80" y1="460.60" x2="8.80" y2="463.40" stroke="#f00" stroke-width="1"/>
<line x1="5.55" y1="459.25" x2="3.57" y2="461.23" stroke="#f00" stroke-width="1"/>
<line x1="4.20" y1="456.00" x2="1.40" y2="456.00" stroke="#f00" stroke-width="1"/>
<line x1="5.55" y1="452.75" x2="3.57" y2="450.77" stroke="#f00" stroke-width="1"/>
<line x1="8.80" y1="451.40" x2="8.80" y2="448.60" stroke="#f00" stroke-width="1"/>
<line x1="12.05" y1="452.75" x2="14.03" y2="450.77" stroke="#f00" stroke-width="1"/>
</g>
<text x="124.8" y="635.5" font-family="Liberation Sans, sans-serif" font-size="12" fill="#ffffff" text-anchor="start" textLength="30" lengthAdjust="spacingAndGlyphs" font-weight="bold">18:00</text>
<text x="484.8" y="635.5" font-family="Liberation Sans, sans-serif" font-size="12" fill="#ffffff" text-anchor="start" textLength="30" lengthAdjust="spacingAndGlyphs" font-weight="bold">19:00</text>
<text x="844.8" y="635.5" font-family="Liberation Sans, sans-serif" font-size="12" fill="#ffffff" text-anchor="start" textLength="30" lengthAdjust="spacingAndGlyphs" font-weight="bold">20:00</text>
<rect x="259" y="624" width="163" height="16" fill="#000"/>
<text x="261" y="636" font-family="Liberation Sans, sans-serif" font-size="12" fill="#f0973a" text-anchor="start" textLength="64.2" lengthAdjust="spacingAndGlyphs">2026/03/19</text>
<text x="331.3" y="636" font-family="Liberation Sans, sans-serif" font-size="12" fill="#f0973a" text-anchor="start" textLength="29" lengthAdjust="spacingAndGlyphs">18:22</text>
<text x="363.6" y="635" font-family="Liberation Sans, sans-serif" font-size="12" fill="#f0973a" text-anchor="start" textLength="9" lengthAdjust="spacingAndGlyphs">~</text>
<text x="375" y="636" font-family="Liberation Sans, sans-serif" font-size="12" fill="#f0973a" text-anchor="start" textLength="28.6" lengthAdjust="spacingAndGlyphs">18:23</text>
<g fill="none" stroke="#f0973a" stroke-width="1"><rect x="409.5" y="627.5" width="10" height="8.5"/><path d="M413 627.5 V630.5 Q413 632 411 632.5 M416.5 627.5 V631.5 H419.5"/></g>
<text x="17.6" y="638" font-family="Liberation Sans, sans-serif" font-size="12" fill="#f07010" text-anchor="start" font-weight="bold">1</text>
<g transform="translate(24.4,628) scale(0.98)" fill="none" stroke="#f07010" stroke-width="1.6" stroke-linecap="round" stroke-linejoin="round"><path d="M4.8 0.8 Q3.5 3.5 0.8 5.6 M7 0.8 Q8.5 3.6 11.4 5.2 M2.8 6.5 H9.6 Q9.6 10.5 9 11.2 Q8.6 11.6 7.4 11.2 M5.6 6.5 Q5 9.8 1.4 11.6"/></g>
<path d="M46.2 629.6 L50.5 638 L41.9 638 Z" fill="#f07010"/>
<g transform="translate(72,-2.3)" fill="none" stroke="#ffffff" stroke-width="1.15" stroke-linecap="square"><path d="M1 2 H11 M4 0.5 V3.5 M8 0.5 V3.5 M2.5 5 H9.5 M2.5 5 V8 M9.5 5 V8 M6 3.5 V8 M0.6 8 H11.4 M6 8 Q5 10.5 1 11.5 M6 8 Q7 10.5 11 11.5"/></g>
<g transform="translate(84,-2.3)" fill="none" stroke="#ffffff" stroke-width="1.15" stroke-linecap="square"><path d="M2.5 0.5 L0.8 3 M1.2 3 H4.5 M0.8 5.5 H4.5 M0.8 8 H4.5 M2.7 3 V11 L4.5 9.8 M8.3 0.3 V1.8 M5.6 2 H11.4 M6.8 2.8 L7.2 4 M10 2.8 L9.6 4 M5.2 4.8 H11.5 M5.2 4.8 V6 M11.5 4.8 V6 M5.6 7 H11.2 M8 7 Q7.6 10 5.6 11.5 M7.6 8.8 H10.6 Q10.6 11 10 11.4 L9 11.2"/></g>
<g transform="translate(96,-2.3)" fill="none" stroke="#ffffff" stroke-width="1.15" stroke-linecap="square"><path d="M3.6 0.3 L4.4 1.6 M8.4 0.3 L7.6 1.6 M1.6 2 H10.4 M2.6 4 H9.4 M1 6 H11 M6 2 V6 M0.8 8 H11.2 M6 6.4 V8 Q5 10.5 1 11.5 M6 8 Q7 10.5 11 11.5"/></g>
<g transform="translate(108,-2.3)" fill="none" stroke="#ffffff" stroke-width="1.15" stroke-linecap="square"><path d="M2.6 2 H9.4 M0.8 5 H11.2 M4.5 5 Q4.5 9.5 0.9 11.5 M7.5 5 V10.6 Q7.5 11.3 8.3 11.3 H10.6 Q11.2 11.3 11.2 9.6"/></g>
<path d="M131.2 -3 H126.3 V10 H131.2 L129 8.4 V-1.6 Z" fill="#f07010"/>
<text x="133" y="8" font-family="Liberation Sans, sans-serif" font-size="12" fill="#f07010" text-anchor="start">1</text>
<g transform="translate(139.5,-2.3) scale(1.0)" fill="none" stroke="#f07010" stroke-width="1.0" stroke-linecap="round" stroke-linejoin="round"><path d="M4.8 0.8 Q3.5 3.5 0.8 5.6 M7 0.8 Q8.5 3.6 11.4 5.2 M2.8 6.5 H9.6 Q9.6 10.5 9 11.2 Q8.6 11.6 7.4 11.2 M5.6 6.5 Q5 9.8 1.4 11.6"/></g>
<path d="M152.4 -3 H157.3 V10 H152.4 L154.6 8.4 V-1.6 Z" fill="#f07010"/>
<g fill="none" stroke="#f07010" stroke-width="1"><circle cx="168.5" cy="5.5" r="4.3"/><path d="M164 5.5 H173 M168.5 1 V10"/></g>
<rect x="925.5" y="-5.5" width="13" height="14" fill="#0c0c0c" stroke="#a0a0a0" stroke-width="1"/>
<rect x="941.5" y="-5.5" width="13" height="14" fill="#0c0c0c" stroke="#a0a0a0" stroke-width="1"/>
<rect x="957.5" y="-5.5" width="13" height="14" fill="#0c0c0c" stroke="#a0a0a0" stroke-width="1"/>
<rect x="973.5" y="-5.5" width="13" height="14" fill="#0c0c0c" stroke="#a0a0a0" stroke-width="1"/>
<g fill="#9a9a9a" shape-rendering="crispEdges">
<rect x="928" y="1" width="2" height="2"/><rect x="931" y="1" width="2" height="2"/><rect x="934" y="1" width="2" height="2"/><rect x="931" y="4" width="2" height="3"/>
<rect x="944" y="0" width="1" height="6"/><rect x="943" y="5" width="10" height="1"/><rect x="944" y="4" width="1" height="3"/><rect x="951" y="4" width="1" height="3"/><rect x="947" y="0" width="1" height="4"/><rect x="948" y="1" width="1" height="1"/><rect x="949" y="2" width="1" height="1"/><rect x="950" y="0" width="1" height="4"/>
<rect x="960" y="0" width="1" height="6"/><rect x="959" y="5" width="10" height="1"/><rect x="960" y="4" width="1" height="3"/><rect x="967" y="4" width="1" height="3"/>
<rect x="975" y="0" width="1" height="7"/><rect x="975" y="6" width="4" height="1"/><rect x="978" y="2" width="1" height="5"/><rect x="978" y="1" width="5" height="1"/>
</g>
<path d="M963 -0.5 L968.3 1.6 L963 3.6 Z M981 -1 L984.2 1.5 L981 4 Z" fill="#9a9a9a"/>
</svg>
</body></html>
